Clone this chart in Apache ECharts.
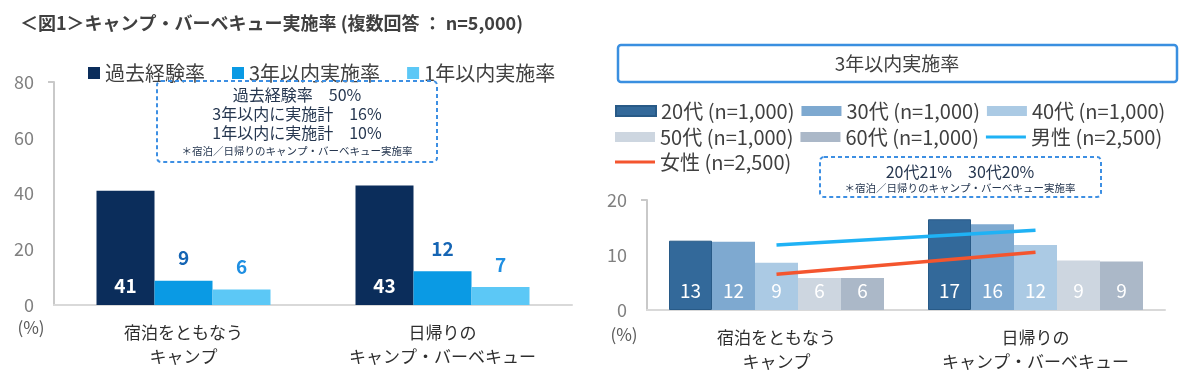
<!DOCTYPE html>
<html><head><meta charset="utf-8">
<script src="https://cdn.jsdelivr.net/npm/echarts@6/dist/echarts.min.js"></script>
<style>html,body{margin:0;padding:0;background:#fff}#c{width:1200px;height:384px}</style>
</head><body><div id="c"></div>
<script>
// ---- data ----
const categories = ['宿泊をともなう\nキャンプ', '日帰りの\nキャンプ・バーベキュー'];
const leftNames = ['過去経験率', '3年以内実施率', '1年以内実施率'];
const pastExperience = [41.0, 42.9];
const within3Years = [8.7, 12.1];
const within1Year = [5.6, 6.5];
const leftYMax = 80, leftYStep = 20;

const rightNames = ['20代 (n=1,000)', '30代 (n=1,000)', '40代 (n=1,000)', '50代 (n=1,000)', '60代 (n=1,000)', '男性 (n=2,500)', '女性 (n=2,500)'];
const age20 = [12.6, 16.5];
const age30 = [12.4, 15.6];
const age40 = [8.6, 11.8];
const age50 = [5.8, 9.0];
const age60 = [5.8, 8.8];
const male = [11.8, 14.5];
const female = [6.5, 10.5];
const rightYMax = 20, rightYStep = 10;

const leftNote = ['過去経験率　50%', '3年以内に実施計　16%', '1年以内に実施計　10%', '＊宿泊／日帰りのキャンプ・バーベキュー実施率'];
const rightNote = ['20代21%　30代20%', '＊宿泊／日帰りのキャンプ・バーベキュー実施率'];
const rightTitle = '3年以内実施率';

// ---- chart ----
const FONT = "'Noto Sans CJK JP', 'Noto Sans', sans-serif";
const chart = echarts.init(document.getElementById('c'), null, {renderer: 'canvas'});
const rnd = p => Math.round(p.value);

const leftColors = ['#0B2D5B', '#0A9AE4', '#5CC8F6'];
const rightColors = ['#33699A', '#7EA9D0', '#ABCAE4', '#CDD6E0', '#ABB8C8', '#1FB2F5', '#F4552E'];
const LINE_ICON = 'path://M0,0L40,0L40,0.01L0,0.01Z M0,3.4L40,3.4L40,6.6L0,6.6Z M0,9.99L40,9.99L40,10L0,10Z';

function yAxis(gridIndex, max, step) {
  return {
    type: 'value', gridIndex, min: 0, max, interval: step,
    axisLine: {show: true, lineStyle: {color: '#C9C9C9', width: 2}},
    axisTick: {show: true, customValues: [max], length: 6, lineStyle: {color: '#C9C9C9', width: 2}},
    axisLabel: {fontSize: 18, color: '#808080', margin: 20, fontFamily: FONT},
    splitLine: {show: false}
  };
}
function xAxis(gridIndex) {
  return {
    type: 'category', gridIndex, data: categories,
    axisLine: {show: true, lineStyle: {color: '#D9D9D9', width: 2}},
    axisTick: {show: false},
    axisLabel: {interval: 0, fontSize: 17, lineHeight: 24, color: '#2E2E2E', margin: 16, fontFamily: FONT}
  };
}
function legendItems(names) {
  return names.map(n => ({name: n, icon: n.indexOf('性') >= 0 ? LINE_ICON : 'rect'}));
}
const rLegendText = {fontSize: 20, color: '#404040', width: 138, fontFamily: FONT};
const noteStyle = (t, size) => ({text: t, font: size + 'px ' + FONT, fill: '#263750', textAlign: 'center', textVerticalAlign: 'middle'});

const option = {
  animation: false,
  textStyle: {fontFamily: FONT},
  title: [{
    text: '{a|＜図1＞キャンプ・バーベキュー実施率} {b|(複数回答 ： n=5,000)}',
    left: 15, top: 9,
    textStyle: {rich: {
      a: {fontSize: 18, fontWeight: 'bold', color: '#404040', fontFamily: FONT},
      b: {fontSize: 18, fontWeight: 'bold', color: '#404040', fontFamily: FONT}
    }}
  }],
  legend: [
    {data: leftNames, left: 83, top: 58, icon: 'rect', itemWidth: 12, itemHeight: 12, itemGap: 27,
     textStyle: {fontSize: 20, color: '#404040', fontFamily: FONT}},
    {data: legendItems(rightNames.slice(0, 3)), left: 610, top: 96, itemWidth: 40, itemHeight: 10, itemGap: 7, textStyle: rLegendText},
    {data: legendItems(rightNames.slice(3, 6)), left: 610, top: 122, itemWidth: 40, itemHeight: 10, itemGap: 7, textStyle: rLegendText},
    {data: legendItems(rightNames.slice(6)), left: 610, top: 147, itemWidth: 40, itemHeight: 10, itemGap: 7, textStyle: rLegendText}
  ],
  grid: [
    {left: 54, top: 82, width: 518, height: 223, containLabel: false},
    {left: 647, top: 200, width: 518, height: 110, containLabel: false}
  ],
  xAxis: [xAxis(0), xAxis(1)],
  yAxis: [yAxis(0, leftYMax, leftYStep), yAxis(1, rightYMax, rightYStep)],
  series: [
    {name: leftNames[0], type: 'bar', xAxisIndex: 0, yAxisIndex: 0, data: pastExperience,
     barWidth: 58, barGap: '0%', itemStyle: {color: leftColors[0]},
     label: {show: true, position: 'insideBottom', distance: 10, formatter: rnd, color: '#fff', fontSize: 19, fontWeight: 'bold', fontFamily: FONT}},
    {name: leftNames[1], type: 'bar', xAxisIndex: 0, yAxisIndex: 0, data: within3Years,
     barWidth: 58, barGap: '0%', itemStyle: {color: leftColors[1]},
     label: {show: true, position: 'top', distance: 13, formatter: rnd, color: '#1565B4', fontSize: 19, fontWeight: 'bold', fontFamily: FONT}},
    {name: leftNames[2], type: 'bar', xAxisIndex: 0, yAxisIndex: 0, data: within1Year,
     barWidth: 58, barGap: '0%', itemStyle: {color: leftColors[2]},
     label: {show: true, position: 'top', distance: 13, formatter: rnd, color: '#1F8FE2', fontSize: 19, fontWeight: 'bold', fontFamily: FONT}},
    ...[age20, age30, age40, age50, age60].map((d, i) => ({
      name: rightNames[i], type: 'bar', xAxisIndex: 1, yAxisIndex: 1, data: d,
      barWidth: 43, barGap: '0%',
      itemStyle: {color: rightColors[i], borderColor: i === 0 ? '#285A87' : rightColors[i], borderWidth: i === 0 ? 1 : 0},
      label: {show: true, position: 'insideBottom', distance: 10, formatter: rnd, color: '#ffffff', fontSize: 19, fontFamily: FONT}
    })),
    {name: rightNames[5], type: 'line', xAxisIndex: 1, yAxisIndex: 1, data: male, symbol: 'none',
     itemStyle: {color: rightColors[5]}, lineStyle: {color: rightColors[5], width: 3.5}, z: 5},
    {name: rightNames[6], type: 'line', xAxisIndex: 1, yAxisIndex: 1, data: female, symbol: 'none',
     itemStyle: {color: rightColors[6]}, lineStyle: {color: rightColors[6], width: 3.5}, z: 5}
  ],
  graphic: [
    {type: 'rect', shape: {x: 157, y: 81, width: 280, height: 81, r: 4},
     style: {fill: 'none', stroke: '#3D8FE3', lineWidth: 2, lineDash: [4, 3]}, z: 10},
    {type: 'text', x: 297, y: 95, style: noteStyle(leftNote[0], 16), z: 10},
    {type: 'text', x: 297, y: 114, style: noteStyle(leftNote[1], 16), z: 10},
    {type: 'text', x: 297, y: 133, style: noteStyle(leftNote[2], 16), z: 10},
    {type: 'text', x: 297, y: 151, style: noteStyle(leftNote[3], 10.5), z: 10},
    {type: 'rect', shape: {x: 618, y: 45, width: 559, height: 37, r: 3},
     style: {fill: '#fff', stroke: '#3A8FE0', lineWidth: 2.5}, z: 10},
    {type: 'text', x: 897, y: 64, style: {text: rightTitle, font: '19px ' + FONT, fill: '#404040', textAlign: 'center', textVerticalAlign: 'middle'}, z: 11},
    {type: 'rect', shape: {x: 820, y: 157, width: 281, height: 40, r: 4},
     style: {fill: 'none', stroke: '#3D8FE3', lineWidth: 2, lineDash: [4, 3]}, z: 10},
    {type: 'text', x: 960, y: 172, style: noteStyle(rightNote[0], 16), z: 10},
    {type: 'text', x: 960, y: 188, style: noteStyle(rightNote[1], 10.5), z: 10},
    {type: 'text', x: 31, y: 328, style: {text: '(%)', font: '17px ' + FONT, fill: '#595959', textAlign: 'center', textVerticalAlign: 'middle'}},
    {type: 'text', x: 624, y: 335, style: {text: '(%)', font: '17px ' + FONT, fill: '#595959', textAlign: 'center', textVerticalAlign: 'middle'}}
  ]
};
chart.setOption(option);
</script>
</body></html>
